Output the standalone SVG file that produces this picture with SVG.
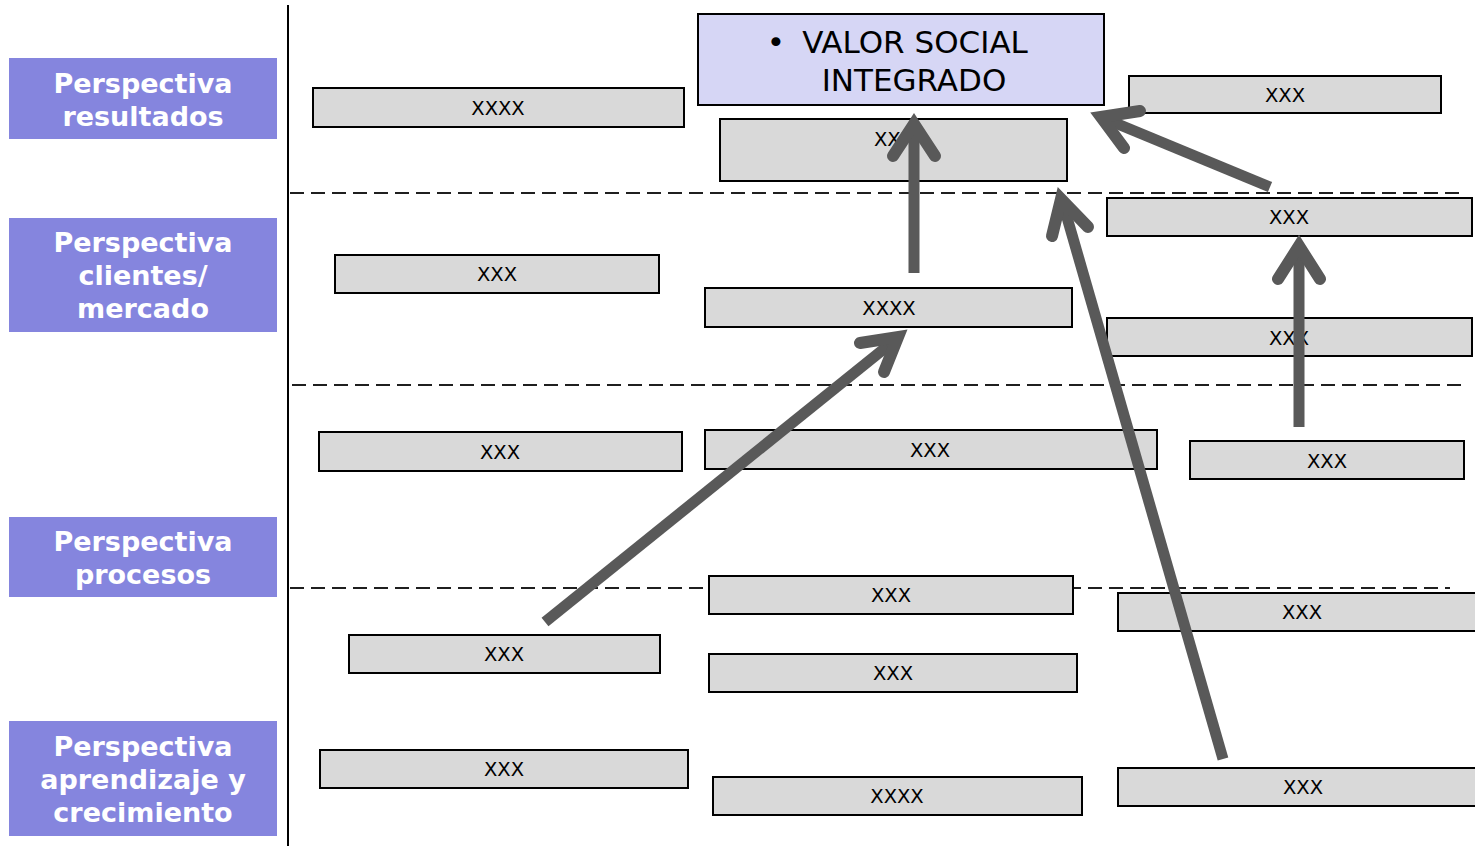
<svg xmlns="http://www.w3.org/2000/svg" width="1475" height="846" viewBox="0 0 1475 846">
  <style>
    .persp rect { fill: #8585de; }
    .persp text { font-family: "DejaVu Sans", Verdana, sans-serif; font-weight: bold; font-size: 27px; fill: #ffffff; text-anchor: middle; }
    .box rect { fill: #d9d9d9; stroke: #000000; stroke-width: 2; }
    .box text { font-family: "DejaVu Sans", Verdana, sans-serif; font-size: 19.5px; fill: #000000; text-anchor: middle; dominant-baseline: central; }
    .goal rect { fill: #d6d6f5; stroke: #000000; stroke-width: 2; }
    .goal text { font-family: "DejaVu Sans", Verdana, sans-serif; font-size: 31px; fill: #000000; text-anchor: middle; }
    .divider { stroke: #1f1f1f; stroke-width: 2; stroke-dasharray: 14 7; fill: none; }
    .axis { stroke: #000000; stroke-width: 2; fill: none; }
    .shaft { stroke: #595959; stroke-width: 11; fill: none; stroke-linecap: butt; }
    .head { stroke: #595959; stroke-width: 12; fill: none; stroke-linecap: round; stroke-linejoin: miter; stroke-miterlimit: 6; }
  </style>

  <rect width="1475" height="846" fill="#ffffff"/>

  <!-- perspective labels -->
  <g id="persp-resultados" class="persp">
    <rect x="9" y="58" width="268" height="81"/>
    <text x="143" y="93">Perspectiva</text>
    <text x="143" y="126">resultados</text>
  </g>
  <g id="persp-clientes" class="persp">
    <rect x="9" y="218" width="268" height="114"/>
    <text x="143" y="252">Perspectiva</text>
    <text x="143" y="285">clientes/</text>
    <text x="143" y="318">mercado</text>
  </g>
  <g id="persp-procesos" class="persp">
    <rect x="9" y="517" width="268" height="80"/>
    <text x="143" y="551">Perspectiva</text>
    <text x="143" y="584">procesos</text>
  </g>
  <g id="persp-aprendizaje" class="persp">
    <rect x="9" y="721" width="268" height="115"/>
    <text x="143" y="756">Perspectiva</text>
    <text x="143" y="789">aprendizaje y</text>
    <text x="143" y="822">crecimiento</text>
  </g>

  <!-- axis and level separators -->
  <g id="separators">
    <line class="axis" x1="288" y1="5" x2="288" y2="846"/>
    <line class="divider" x1="290" y1="193" x2="1466" y2="193"/>
    <line class="divider" x1="292" y1="385" x2="1466" y2="385"/>
    <line class="divider" x1="290" y1="588" x2="1450" y2="588"/>
  </g>

  <!-- objectives -->
  <g id="goal-valor-social" class="goal">
    <rect x="698" y="14" width="406" height="91"/>
    <text x="776" y="53">•</text>
    <text x="915" y="53">VALOR SOCIAL</text>
    <text x="914" y="91">INTEGRADO</text>
  </g>

  <g id="r1" class="box"><rect x="313" y="88" width="371" height="39"/><text x="498" y="108">XXXX</text></g>
  <g id="r2" class="box"><rect x="720" y="119" width="347" height="62"/><text x="894" y="139">XXX</text></g>
  <g id="r3" class="box"><rect x="1129" y="76" width="312" height="37"/><text x="1285" y="95">XXX</text></g>

  <g id="c1" class="box"><rect x="1107" y="198" width="365" height="38"/><text x="1289" y="217">XXX</text></g>
  <g id="c2" class="box"><rect x="335" y="255" width="324" height="38"/><text x="497" y="274">XXX</text></g>
  <g id="c3" class="box"><rect x="705" y="288" width="367" height="39"/><text x="889" y="308">XXXX</text></g>
  <g id="c4" class="box"><rect x="1107" y="318" width="365" height="38"/><text x="1289" y="338">XXX</text></g>

  <g id="p1" class="box"><rect x="319" y="432" width="363" height="39"/><text x="500" y="452">XXX</text></g>
  <g id="p2" class="box"><rect x="705" y="430" width="452" height="39"/><text x="930" y="450">XXX</text></g>
  <g id="p3" class="box"><rect x="1190" y="441" width="274" height="38"/><text x="1327" y="461">XXX</text></g>
  <g id="p4" class="box"><rect x="709" y="576" width="364" height="38"/><text x="891" y="595">XXX</text></g>
  <g id="p5" class="box"><rect x="1118" y="593" width="362" height="38"/><text x="1302" y="612">XXX</text></g>
  <g id="p6" class="box"><rect x="349" y="635" width="311" height="38"/><text x="504" y="654">XXX</text></g>
  <g id="p7" class="box"><rect x="709" y="654" width="368" height="38"/><text x="893" y="673">XXX</text></g>

  <g id="a1" class="box"><rect x="320" y="750" width="368" height="38"/><text x="504" y="769">XXX</text></g>
  <g id="a2" class="box"><rect x="713" y="777" width="369" height="38"/><text x="897" y="796">XXXX</text></g>
  <g id="a3" class="box"><rect x="1118" y="768" width="362" height="38"/><text x="1303" y="787">XXX</text></g>

  <!-- cause-effect links -->
  <g id="connectors">
    <!-- clientes XXXX -> valor social -->
    <line class="shaft" x1="914" y1="273" x2="914" y2="128"/>
    <path class="head" d="M893 156 L914 124 L935 156"/>

    <!-- procesos -> clientes XXXX -->
    <line class="shaft" x1="545" y1="622" x2="895" y2="340"/>
    <path class="head" d="M860 343 L898 337 L884 372"/>

    <!-- aprendizaje -> valor social -->
    <line class="shaft" x1="1223" y1="759" x2="1064" y2="207"/>
    <path class="head" d="M1052 236 L1061 199 L1088 227"/>

    <!-- clientes XXX -> valor social -->
    <line class="shaft" x1="1270" y1="187" x2="1108" y2="120"/>
    <path class="head" d="M1140 111 L1101 117 L1124 148"/>

    <!-- procesos XXX -> clientes XXX -->
    <line class="shaft" x1="1299" y1="427" x2="1299" y2="250"/>
    <path class="head" d="M1278 279 L1299 246 L1320 279"/>
  </g>
</svg>
